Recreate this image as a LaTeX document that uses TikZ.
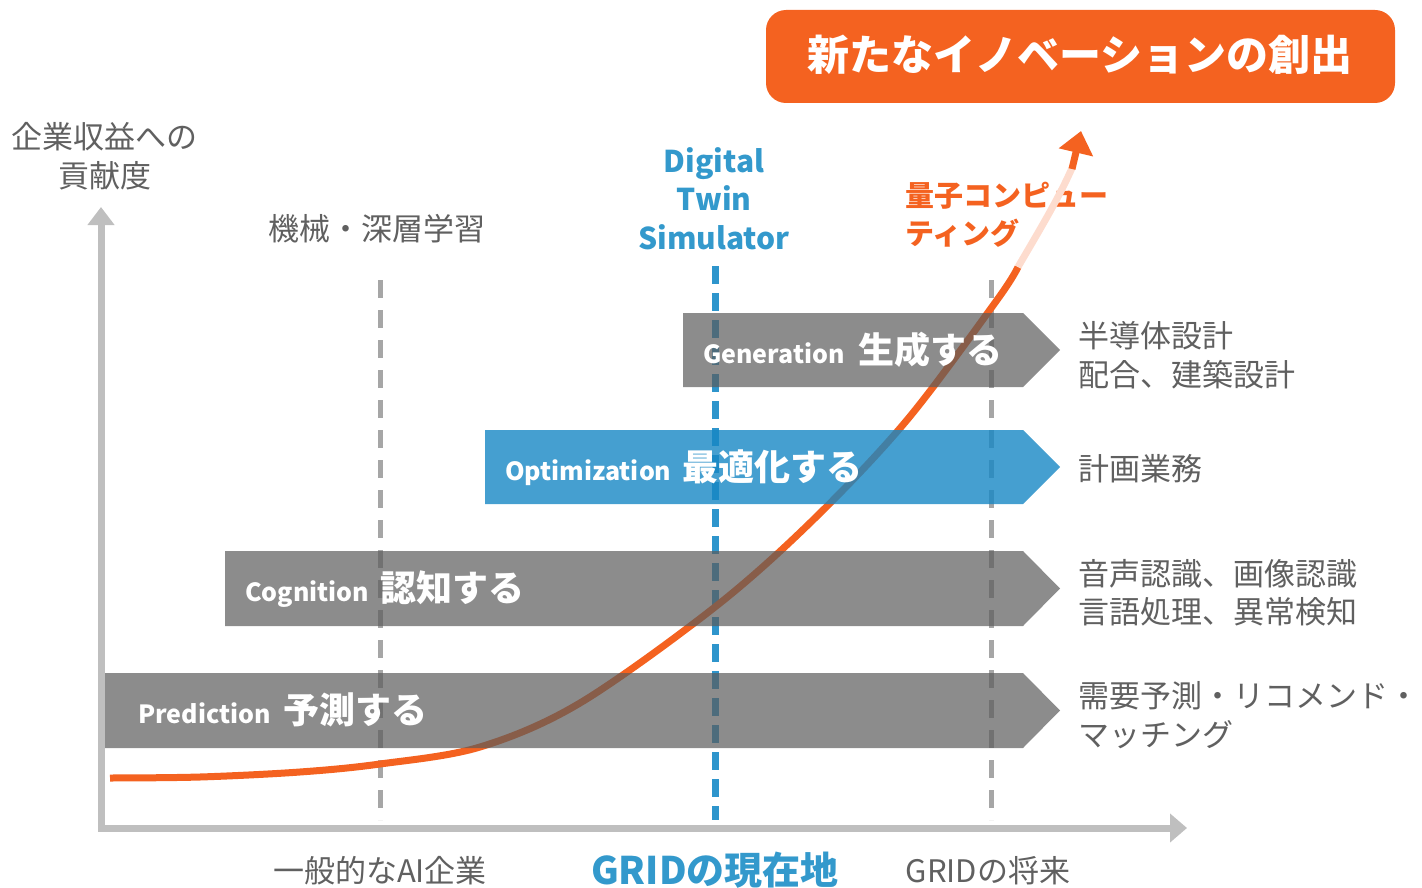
\documentclass[tikz,border=0pt]{standalone}
\usepackage{fontspec}
\setmainfont{Noto Sans CJK JP}
\usetikzlibrary{arrows.meta}
\definecolor{orng}{HTML}{F46220}
\definecolor{gridblue}{HTML}{3399CC}
\definecolor{dashblue}{HTML}{2E95CC}
\definecolor{axisgray}{HTML}{BFBFBF}
\definecolor{dashgray}{HTML}{A6A6A6}
\definecolor{txtgray}{HTML}{606060}
\definecolor{bandgray}{HTML}{5B5B5B}
\definecolor{bandblue}{HTML}{1787C4}
\newcommand{\myfs}[2]{\fontsize{#1}{#2}\selectfont}
\begin{document}
\begin{tikzpicture}[x=1pt,y=-1pt,
  lbl/.style={text=txtgray,font=\myfs{31}{39},inner sep=0pt},
  rlbl/.style={lbl,anchor=base west},
  clbl/.style={lbl,anchor=base},
  axisline/.style={draw=axisgray,line width=7pt},
  gdash/.style={draw=dashgray,line width=5pt,dash pattern=on 18pt off 12pt},
  bdash/.style={draw=dashblue,line width=7pt,dash pattern=on 18pt off 9pt},
  curve/.style={draw=orng,line width=7pt},
  fadecurve/.style={draw=orng!22,line width=7pt},
  grayband/.style={fill=bandgray,fill opacity=0.7},
  blueband/.style={fill=bandblue,fill opacity=0.8},
  bandtxt/.style={text=white,inner sep=0pt,anchor=base west,font=\bfseries},
  dtwin/.style={text=gridblue,font=\myfs{30}{38}\bfseries,inner sep=0pt,anchor=base},
  qcomp/.style={text=orng,font=\myfs{29}{37}\bfseries,inner sep=0pt,anchor=base west},
]
\useasboundingbox (0,0) rectangle (1422,888);

% title
\fill[orng] (766,10) [rounded corners=20pt] rectangle (1395,103);
\node[text=white,font=\myfs{42}{50}\bfseries,inner sep=0pt,anchor=base] (title) at (1080,71) {新たなイノベーションの創出};

% y axis label
\node[clbl] (ylab1) at (105,149) {企業収益への};
\node[clbl] (ylab2) at (105,187) {貢献度};

% column headers
\node[clbl] (ml) at (377,240) {機械・深層学習};
\node[dtwin] (dt1) at (714,172) {Digital};
\node[dtwin] (dt2) at (714,210) {Twin};
\node[dtwin] (dt3) at (714,249) {Simulator};
\node[qcomp] (qc1) at (905,207) {量子コンピュー};
\node[qcomp] (qc2) at (905,244) {ティング};

% dashed verticals
\coordinate (g1t) at (380,280); \coordinate (g1b) at (380,820);
\coordinate (bt) at (715,266); \coordinate (bb) at (715,820);
\coordinate (g2t) at (991,280); \coordinate (g2b) at (991,820);
\draw[gdash] (g1t) -- (g1b);
\draw[bdash] (bt) -- (bb);
\draw[gdash] (g2t) -- (g2b);

% axes
\coordinate (ytip) at (101,207);
\coordinate (origin) at (101,828);
\coordinate (xtip) at (1187,828);
\draw[axisline,{Triangle[length=18pt,width=26pt]}-{Triangle[length=17pt,width=28pt]}] (ytip) -- (origin) -- (xtip);

% growth curve
\draw[curve] plot[smooth,tension=0.55] coordinates {(110,778) (200,777) (300,772) (380,764) (480,747) (580,703) (715,607) (813,520) (907,420) (997,300) (1018,267)};
\draw[fadecurve] (1018,267) .. controls (1036,236) and (1058,200) .. (1072,168);
\draw[curve,-{Triangle[length=22pt,width=34pt]}] (1072,169) -- (1081,131);

% bands
\fill[grayband] (683,313) -- (1023,313) -- (1060,350) -- (1023,387) -- (683,387) -- cycle;
\fill[blueband] (485,430) -- (1023,430) -- (1060,467) -- (1023,504) -- (485,504) -- cycle;
\fill[grayband] (225,551) -- (1023,551) -- (1060,588.5) -- (1023,626) -- (225,626) -- cycle;
\fill[grayband] (105,673) -- (1023,673) -- (1060,710.5) -- (1023,748) -- (105,748) -- cycle;

\node[bandtxt] (gen) at (703,363) {\makebox[155pt][l]{\myfs{25}{30}Generation}\myfs{36}{40}生成する};
\node[bandtxt] (opt) at (505,480) {\makebox[177pt][l]{\myfs{25}{30}Optimization}\myfs{36}{40}最適化する};
\node[bandtxt] (cog) at (245,601) {\makebox[135pt][l]{\myfs{25}{30}Cognition}\myfs{36}{40}認知する};
\node[bandtxt] (pred) at (138,723) {\makebox[145pt][l]{\myfs{25}{30}Prediction}\myfs{36}{40}予測する};

% right-hand examples
\node[rlbl] (r1a) at (1078,347) {半導体設計};
\node[rlbl] (r1b) at (1078,386) {配合、建築設計};
\node[rlbl] (r2) at (1078,480) {計画業務};
\node[rlbl] (r3a) at (1078,585) {音声認識、画像認識};
\node[rlbl] (r3b) at (1078,623) {言語処理、異常検知};
\node[rlbl] (r4a) at (1078,707) {需要予測・リコメンド・};
\node[rlbl] (r4b) at (1078,746) {マッチング};

% bottom labels
\node[clbl] (b1) at (380,882) {一般的なAI企業};
\node[text=gridblue,font=\myfs{38}{42}\bfseries,inner sep=0pt,anchor=base] (b2) at (715,884) {GRIDの現在地};
\node[lbl,font=\myfs{31}{36},anchor=base] (b3) at (988,882) {GRIDの将来};
\end{tikzpicture}
\end{document}
